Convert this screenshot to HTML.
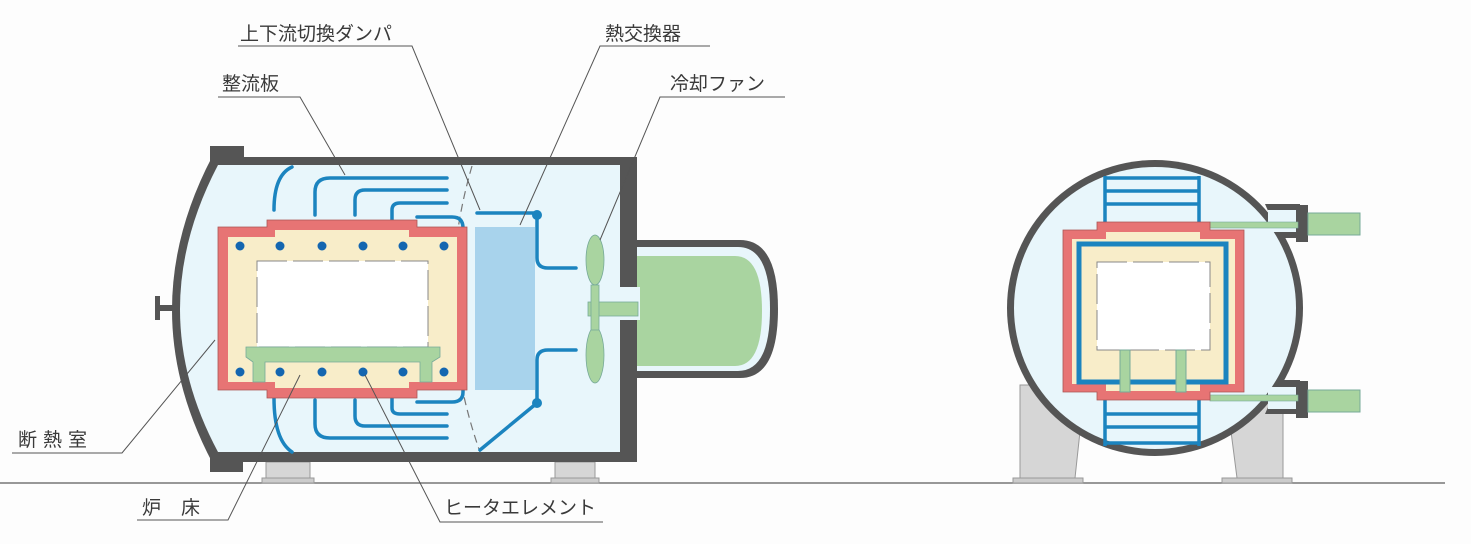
<!DOCTYPE html>
<html><head><meta charset="utf-8"><style>
html,body{margin:0;padding:0;background:#fdfdfd;}
svg{display:block;}
text{font-family:"Liberation Sans","Noto Sans CJK JP",sans-serif;font-size:19px;fill:#3a3a3a;}
</style></head><body>
<svg width="1471" height="544" viewBox="0 0 1471 544" xmlns="http://www.w3.org/2000/svg">
<line x1="0" y1="483" x2="1445" y2="483" stroke="#777" stroke-width="1.5"/>

<!-- LEFT VESSEL -->
<rect x="266" y="462" width="44" height="18" fill="#d6d6d6" stroke="#999"/>
<rect x="262" y="478" width="52" height="5" fill="#ccc" stroke="#999"/>
<rect x="555" y="462" width="40" height="18" fill="#d6d6d6" stroke="#999"/>
<rect x="551" y="478" width="48" height="5" fill="#ccc" stroke="#999"/>
<path d="M625 240 H740 Q778 240 778 309 Q778 378 740 378 H625 Z" fill="#555"/>
<path d="M630 247 H738 Q770 247 770 309 Q770 371 738 371 H630 Z" fill="#e8f6fb"/>
<path d="M637 256 H735 Q762 256 762 311 Q762 366 735 366 H637 Z" fill="#a9d4a0"/>
<path d="M212 157 H637 V462 H212 Q132 310 212 157 Z" fill="#555"/>
<path d="M218 165 H620 V452 H218 Q142 310 218 165 Z" fill="#e8f6fb"/>
<rect x="210" y="146" width="34" height="16" fill="#555"/>
<rect x="210" y="455" width="33" height="17" fill="#555"/>
<rect x="155" y="296" width="5" height="24" fill="#555"/>
<rect x="155" y="305" width="20" height="6" fill="#555"/>
<rect x="618" y="287" width="22" height="33" fill="#e8f6fb"/>
<path d="M472 166 Q430 310 480 452" fill="none" stroke="#777" stroke-width="1.2" stroke-dasharray="8,5"/>
<rect x="475" y="227" width="60" height="163" fill="#a8d3ec"/>
<g fill="none" stroke="#1b84bf" stroke-width="3.5" stroke-linecap="round">
<path d="M274 210 Q274 175 292 167"/>
<path d="M315 215 V192 Q315 178 330 178 H447"/>
<path d="M355 215 V200 Q355 190 365 190 H447"/>
<path d="M392 220 V210 Q392 203 400 203 H447"/>
<path d="M274 398 Q274 440 292 452"/>
<path d="M315 400 V424 Q315 438 330 438 H447"/>
<path d="M355 400 V416 Q355 426 365 426 H447"/>
<path d="M392 395 V408 Q392 414 400 414 H447"/>
<path d="M417 217 H452 Q463 217 463 228 V392 Q463 402 452 402 H417"/>
<path d="M477 213 H537 V258 Q537 268 548 268 H576"/>
<path d="M576 350 H548 Q537 350 537 360 V403 L480 450"/>
</g>
<circle cx="537" cy="215" r="5" fill="#1b84bf"/>
<circle cx="537" cy="403" r="5" fill="#1b84bf"/>
<path d="M218 227 H267 V220 H417 V227 H467 V390 H417 V398 H267 V390 H218 Z" fill="#e77474" stroke="#a55" stroke-width="0.8"/>
<path d="M228 237 H275 V230 H409 V237 H457 V382 H409 V388 H275 V382 H228 Z" fill="#f8edc9"/>
<rect x="257" y="261" width="171" height="86" fill="#fff" stroke="#888" stroke-width="1" stroke-dasharray="30,6"/>
<path d="M246 347 H440 V357 L432 362 V382 H420 V362 H265 V382 H253 V362 L246 357 Z" fill="#a9d4a0" stroke="#7a9" stroke-width="0.8"/>
<g fill="#1466b0">
<circle cx="240" cy="246" r="4.5"/><circle cx="280" cy="246" r="4.5"/><circle cx="322" cy="246" r="4.5"/><circle cx="363" cy="246" r="4.5"/><circle cx="403" cy="246" r="4.5"/><circle cx="444" cy="246" r="4.5"/>
<circle cx="240" cy="372" r="4.5"/><circle cx="280" cy="372" r="4.5"/><circle cx="322" cy="372" r="4.5"/><circle cx="363" cy="372" r="4.5"/><circle cx="403" cy="372" r="4.5"/><circle cx="444" cy="372" r="4.5"/>
</g>
<g fill="#a9d4a0" stroke="#7a9" stroke-width="0.8">
<ellipse cx="595" cy="260" rx="9" ry="25"/>
<ellipse cx="595" cy="355" rx="9" ry="28"/>
<rect x="588" y="302" width="50" height="14"/>
<rect x="591" y="285" width="8" height="45"/>
</g>

<!-- RIGHT VESSEL -->
<path d="M1020 385 L1085 385 L1075 478 L1020 478 Z" fill="#d6d6d6" stroke="#999"/>
<path d="M1225 385 L1283 385 L1283 478 L1237 478 Z" fill="#d6d6d6" stroke="#999"/>
<rect x="1013" y="478" width="70" height="5" fill="#ccc" stroke="#999"/>
<rect x="1222" y="478" width="70" height="5" fill="#ccc" stroke="#999"/>
<circle cx="1155" cy="308" r="148" fill="#555"/>
<circle cx="1155" cy="308" r="141" fill="#e8f6fb"/>
<path d="M1265 204 H1300 V238 H1280 Z" fill="#555"/>
<path d="M1280 380 H1300 V414 H1265 Z" fill="#555"/>
<rect x="1268" y="210" width="30" height="22" fill="#e8f6fb"/>
<rect x="1268" y="387" width="30" height="22" fill="#e8f6fb"/>
<rect x="1296" y="205" width="12" height="37" fill="#555"/>
<rect x="1296" y="381" width="12" height="37" fill="#555"/>
<rect x="1308" y="213" width="52" height="22" fill="#a9d4a0" stroke="#7a9"/>
<rect x="1308" y="390" width="52" height="22" fill="#a9d4a0" stroke="#7a9"/>
<rect x="1210" y="222" width="88" height="6" fill="#a9d4a0" stroke="#7a9" stroke-width="0.6"/>
<rect x="1210" y="395" width="88" height="6" fill="#a9d4a0" stroke="#7a9" stroke-width="0.6"/>
<g fill="none" stroke="#1b84bf" stroke-width="3.5">
<path d="M1105 176 V222 M1199 176 V222 M1105 178 H1199 M1105 191 H1199 M1105 204 H1199"/>
<path d="M1105 400 V446 M1199 400 V446 M1105 414 H1199 M1105 427 H1199 M1105 443 H1199"/>
</g>
<path d="M1063 230 H1097 V222 H1210 V230 H1244 V392 H1210 V400 H1097 V392 H1063 Z" fill="#e77474" stroke="#a55" stroke-width="0.8"/>
<path d="M1072 239 H1106 V232 H1200 V239 H1235 V384 H1200 V391 H1106 V384 H1072 Z" fill="#f8edc9"/>
<rect x="1079" y="244" width="147" height="138" fill="none" stroke="#1b84bf" stroke-width="5"/>
<rect x="1097" y="262" width="113" height="88" fill="#fff" stroke="#888" stroke-dasharray="30,6"/>
<rect x="1120" y="350" width="10" height="42" fill="#a9d4a0" stroke="#7a9"/>
<rect x="1176" y="350" width="10" height="42" fill="#a9d4a0" stroke="#7a9"/>

<g stroke="#555" stroke-width="1" fill="none">
<path d="M238 46 H412 L480 210"/>
<path d="M710 46 H600 L520 225"/>
<path d="M785 97 H660 L600 240"/>
<path d="M218 97 H300 L345 175"/>
<path d="M12 453 H122 L215 340"/>
<path d="M137 520 H228 L300 375"/>
<path d="M603 522 H440 L365 375"/>
</g>
<text x="240" y="40">上下流切換ダンパ</text>
<text x="605" y="40">熱交換器</text>
<text x="670" y="90">冷却ファン</text>
<text x="222" y="90">整流板</text>
<text x="18" y="446" letter-spacing="6">断熱室</text>
<text x="142" y="514" letter-spacing="20">炉床</text>
<text x="444" y="514">ヒータエレメント</text>
</svg>
</body></html>
